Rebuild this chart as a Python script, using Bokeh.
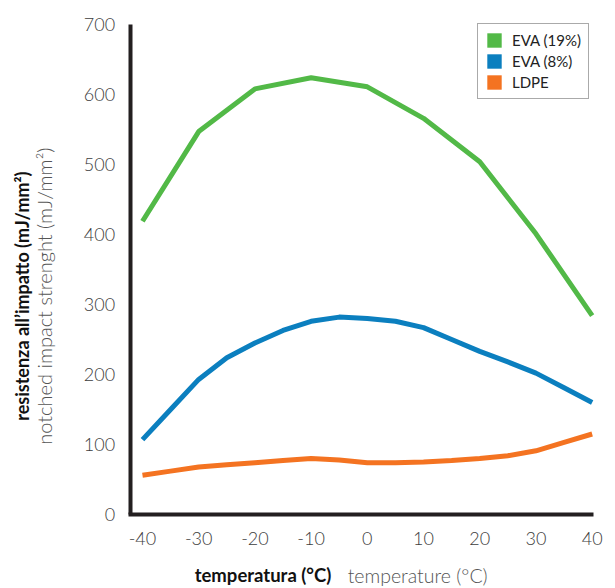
from bokeh.plotting import figure
from bokeh.models import Label, Legend, LegendItem, Range1d, FixedTicker
from bokeh.embed import file_html
from bokeh.resources import INLINE
import math

# data
temps = [-40, -30, -20, -10, 0, 10, 20, 30, 40]
eva19 = [419, 547, 608, 624, 611, 566, 504, 401, 284]

temps_fine = [-40, -35, -30, -25, -20, -15, -10, -5, 0, 5, 10, 15, 20, 25, 30, 35, 40]
eva8 = [107, 150, 193, 224, 245, 263, 276, 282, 280, 276, 267, 250, 233, 218, 202, 181, 160]
ldpe = [56, 62, 68, 71, 74, 77, 80, 78, 74, 74, 75, 77, 80, 84, 91, 103, 115]

series_names = ["EVA (19%)", "EVA (8%)", "LDPE"]
colors = ["#52b947", "#0b7fbf", "#f47321"]
x_ticks = [-40, -30, -20, -10, 0, 10, 20, 30, 40]
y_ticks = [0, 100, 200, 300, 400, 500, 600, 700]

FONT = "Lato"
LIGHT = "Lato Light"

p = figure(width=615, height=588, output_backend="svg", toolbar_location=None,
           x_range=Range1d(-65.26, 44.15), y_range=Range1d(-105.7, 734.3),
           min_border=0)
p.outline_line_color = None
p.grid.grid_line_color = None
p.background_fill_color = "white"
p.border_fill_color = "white"

p.xaxis.fixed_location = 0
p.xaxis.bounds = (-42.5, 40.3)
p.yaxis.fixed_location = -42.2
p.yaxis.bounds = (0, 700)
p.xaxis.major_label_overrides = {t: str(t) for t in x_ticks}
p.yaxis.major_label_overrides = {t: str(t) for t in y_ticks}

for ax, ticks in ((p.xaxis, x_ticks), (p.yaxis, y_ticks)):
    ax.ticker = FixedTicker(ticks=ticks)
    ax.axis_line_width = 4
    ax.axis_line_color = "#231f20"
    ax.major_tick_line_color = None
    ax.minor_tick_line_color = None
    ax.major_tick_out = 0
    ax.major_tick_in = 0
    ax.major_label_text_font = LIGHT
    ax.major_label_text_font_size = "18px"
    ax.major_label_text_color = "#3d3d3d"
p.xaxis.major_label_standoff = 17
p.yaxis.major_label_standoff = 15

p.line(temps, eva19, line_width=5, color=colors[0])
p.line(temps_fine, eva8, line_width=5, color=colors[1], line_join="round")
p.line(temps_fine, ldpe, line_width=5, color=colors[2], line_join="round")

# legend swatches: zero-size bars of each series (only their legend square shows)
s1 = p.vbar(x=temps, top=eva19, bottom=eva19, width=0, fill_color=colors[0], line_color=None)
s2 = p.vbar(x=temps_fine, top=eva8, bottom=eva8, width=0, fill_color=colors[1], line_color=None)
s3 = p.vbar(x=temps_fine, top=ldpe, bottom=ldpe, width=0, fill_color=colors[2], line_color=None)
legend = Legend(items=[LegendItem(label=series_names[0], renderers=[s1]),
                       LegendItem(label=series_names[1], renderers=[s2]),
                       LegendItem(label=series_names[2], renderers=[s3])],
                location=(477, 489))
legend.margin = 0
legend.padding = 7
legend.spacing = 3
legend.glyph_width = 18
legend.glyph_height = 18
legend.label_height = 18
legend.label_standoff = 9
legend.label_text_font = FONT
legend.label_text_font_size = "15px"
legend.label_text_color = "#222222"
legend.label_text_baseline = "middle"
legend.border_line_color = "#555555"
legend.border_line_width = 1.5
legend.background_fill_color = "white"
p.add_layout(legend, "center")

# axis titles
p.add_layout(Label(x=-61.35, y=312, text="resistenza all\u2019impatto (mJ/mm\u00b2)", angle=math.pi / 2,
                   text_align="center", text_baseline="middle", text_font=FONT,
                   text_font_style="bold", text_font_size="18px", text_color="#111111"))
p.add_layout(Label(x=-57.6, y=312, text="notched impact strenght (mJ/mm\u00b2)", angle=math.pi / 2,
                   text_align="center", text_baseline="middle", text_font=LIGHT,
                   text_font_size="20px", text_color="#555555"))
p.add_layout(Label(x=-6.4, y=-86.5, text="temperatura (\u00b0C)",
                   text_align="right", text_baseline="middle", text_font=FONT,
                   text_font_style="bold", text_font_size="18.5px", text_color="#111111"))
p.add_layout(Label(x=-3.5, y=-86.5, text="temperature (\u00b0C)",
                   text_align="left", text_baseline="middle", text_font=LIGHT,
                   text_font_size="19.5px", text_color="#555555"))

open("out.html", "w").write(file_html(p, INLINE))
